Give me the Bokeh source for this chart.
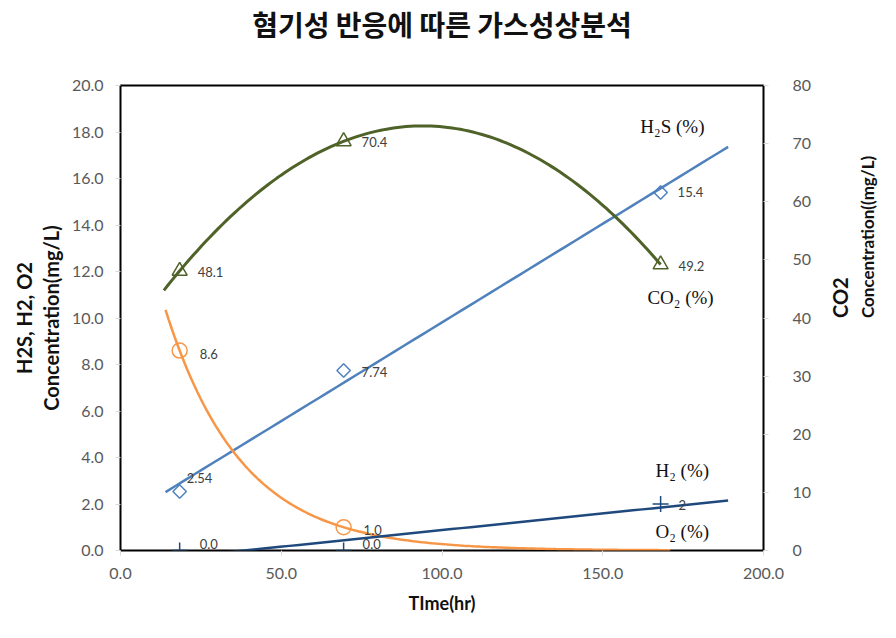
import numpy as np
from bokeh.plotting import figure
from bokeh.models import Range1d, LinearAxis, Label, FixedTicker, NumeralTickFormatter
from bokeh.embed import file_html
from bokeh.resources import INLINE
from bokeh.core.properties import value

# ---------------- data ----------------
time_hr = [18.4, 69.4, 168.0]
h2s = [2.54, 7.74, 15.4]          # left axis
co2 = [48.1, 70.4, 49.2]          # right axis
o2_time = [18.4, 69.4]
o2 = [8.6, 1.0]                   # left axis
h2 = [0.0, 0.0, 2.0]              # left axis
h2s_labels = ["2.54", "7.74", "15.4"]
co2_labels = ["48.1", "70.4", "49.2"]
o2_labels = ["8.6", "1.0"]
h2_labels = ["0.0", "0.0", "2"]
x_ticks = [0, 50, 100, 150, 200]
left_ticks = [0, 2, 4, 6, 8, 10, 12, 14, 16, 18, 20]
right_ticks = [0, 10, 20, 30, 40, 50, 60, 70, 80]

title = "혐기성 반응에 따른 가스성상분석"

# ---------------- colours / fonts ----------------
C_H2S = "#4F81BD"
C_CO2 = "#4F6228"
C_O2 = "#F79646"
C_H2 = "#1F497D"
FONT = "Lato"

p = figure(frame_width=643, frame_height=465,
           min_border_left=120, min_border_right=117,
           min_border_top=85, min_border_bottom=72,
           x_range=Range1d(0, 200), y_range=Range1d(0, 20),
           title_location=None,
           output_backend="svg", toolbar_location=None,
           background_fill_color="white", border_fill_color="white")
p.extra_y_ranges = {"co2": Range1d(0, 80)}

p.outline_line_color = "black"
p.outline_line_width = 2
p.xgrid.visible = False
p.ygrid.visible = False


def style_axis(ax, standoff):
    ax.axis_line_color = None
    ax.major_tick_line_color = "#D9D9D9"
    ax.major_tick_in = 0
    ax.major_tick_out = 5
    ax.minor_tick_line_color = None
    ax.major_label_text_font = FONT
    ax.major_label_text_font_size = "16px"
    ax.major_label_text_color = "#595959"
    ax.major_label_standoff = standoff
    ax.axis_label_text_font = FONT
    ax.axis_label_text_font_style = "bold"
    ax.axis_label_text_color = "#111111"


def blank_axis(ax):
    ax.axis_line_color = None
    ax.major_tick_line_color = None
    ax.minor_tick_line_color = None
    ax.major_tick_out = 0
    ax.major_tick_in = 0
    ax.major_label_standoff = 0
    ax.axis_label_text_font = FONT
    ax.axis_label_text_font_style = "bold"
    ax.axis_label_text_color = "#111111"


xa = p.below[0]
ya = p.left[0]

# chart title, drawn as the label of an empty axis above the frame
ta = LinearAxis(ticker=FixedTicker(ticks=[]), axis_label=title)
blank_axis(ta)
ta.axis_label_text_font = "Noto Sans CJK KR"
ta.axis_label_text_font_size = "28px"
ta.axis_label_standoff = 42
p.add_layout(ta, "above")

xa.ticker = FixedTicker(ticks=x_ticks)
xa.formatter = NumeralTickFormatter(format="0.0")
style_axis(xa, 12)
xa.axis_label = "TIme(hr)"
xa.axis_label_text_font_size = "18px"
xa.axis_label_standoff = 10

ya.ticker = FixedTicker(ticks=left_ticks)
ya.formatter = NumeralTickFormatter(format="0.0")
style_axis(ya, 12)
ya.axis_label = "Concentration(mg/L)"
ya.axis_label_text_font_size = "20px"
ya.axis_label_standoff = 6

ya2 = LinearAxis(ticker=FixedTicker(ticks=[]), axis_label="H2S, H2, O2")
blank_axis(ya2)
ya2.axis_label_text_font_size = "20px"
ya2.axis_label_standoff = 0
p.add_layout(ya2, "left")

ra = LinearAxis(y_range_name="co2", ticker=FixedTicker(ticks=right_ticks),
                formatter=NumeralTickFormatter(format="0"))
style_axis(ra, 24)
ra.axis_label = "CO2"
ra.axis_label_text_font_size = "20px"
ra.axis_label_standoff = 26
ra.axis_label_orientation = np.pi / 2
p.add_layout(ra, "right")

ra2 = LinearAxis(y_range_name="co2", ticker=FixedTicker(ticks=[]),
                 axis_label="Concentration((mg/L)")
blank_axis(ra2)
ra2.axis_label_text_font_size = "17px"
ra2.axis_label_standoff = 0
ra2.axis_label_orientation = np.pi / 2
p.add_layout(ra2, "right")

# ---------------- trendlines ----------------
t = np.array(time_hr)
k1 = np.polyfit(t, h2s, 1)
xs1 = np.linspace(14, 189, 60)
p.line(xs1, np.polyval(k1, xs1), line_color=C_H2S, line_width=2.5)

k2 = np.polyfit(t, co2, 2)
xs2 = np.linspace(13.5, 168, 120)
p.line(xs2, np.polyval(k2, xs2), line_color=C_CO2, line_width=3, y_range_name="co2")

k3 = np.polyfit(np.array(o2_time), np.log(o2), 1)
xs3 = np.linspace(14, 171, 160)
p.line(xs3, np.exp(np.polyval(k3, xs3)), line_color=C_O2, line_width=2.5)

k4 = np.polyfit(t, h2, 1)
xs4 = np.linspace(14, 189, 60)
p.line(xs4, np.polyval(k4, xs4), line_color=C_H2, line_width=2.5)

# ---------------- markers ----------------
p.scatter(time_hr, h2s, marker="square", angle=np.pi / 4, size=9.5,
          fill_color=None, line_color=C_H2S, line_width=1.5)
p.scatter(time_hr, co2, marker="triangle", size=15, fill_color=None,
          line_color=C_CO2, line_width=1.5, y_range_name="co2")
p.scatter(o2_time, o2, marker="circle", size=15, fill_color=None,
          line_color=C_O2, line_width=1.5)
p.scatter(time_hr, h2, marker="cross", size=16, line_color=C_H2, line_width=1.5)

# ---------------- data labels ----------------
lab = dict(text_font=value(FONT), text_font_size="13px", text_color="#404040",
           text_align="left", text_baseline="middle")
p.text(time_hr, h2s, text=h2s_labels, x_offset=[7, 18, 17], y_offset=[-13, 1, 0], **lab)
p.text(time_hr, co2, text=co2_labels, x_offset=18, y_offset=1, y_range_name="co2", **lab)
p.text(o2_time, o2, text=o2_labels, x_offset=20, y_offset=3, **lab)
p.text(time_hr, h2, text=h2_labels, x_offset=[20, 19, 18], y_offset=[-7, -7, 1], **lab)

# ---------------- series names (serif) ----------------
serif = dict(text_font="Liberation Serif", text_font_size="19px", text_color="#111111",
             text_align="left", text_baseline="middle")
p.add_layout(Label(x=161.7, y=18.24, text="H₂S (%)", **serif))
p.add_layout(Label(x=163.9, y=10.88, text="CO₂ (%)", **serif))
p.add_layout(Label(x=166.4, y=3.44, text="H₂ (%)", **serif))
p.add_layout(Label(x=166.4, y=0.82, text="O₂ (%)", **serif))

open("out.html", "w").write(file_html(p, INLINE))
